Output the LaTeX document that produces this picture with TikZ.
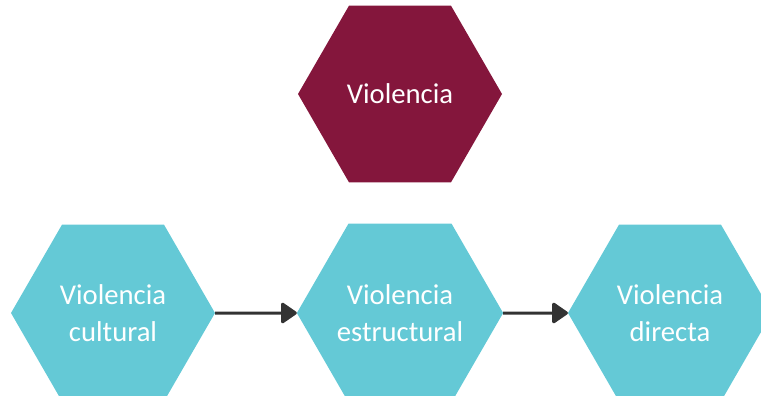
\documentclass[tikz,border=0pt]{standalone}
\usepackage{fontspec}
\setmainfont{Carlito}
\usetikzlibrary{shapes.geometric,arrows.meta}
\definecolor{bordeaux}{RGB}{132,22,60}
\definecolor{turquoise}{RGB}{100,201,214}
\definecolor{fleche}{RGB}{51,51,51}

\begin{document}
\begin{tikzpicture}[x=0.75pt,y=-0.75pt]
\tikzset{hexa/.style={regular polygon, regular polygon sides=6, minimum size=153pt, inner sep=0pt, outer sep=0pt, text=white, align=center, font=\fontsize{21.5}{27.75}\selectfont},
lien/.style={draw=fleche, line width=2.25pt, -{Triangle[length=12.75pt,width=17pt,round]}}}
\useasboundingbox (0,0) rectangle (761,396);
\clip (0,0) rectangle (761,396);
\node[hexa, fill=bordeaux] (V0) at (400,94) {Violencia};
\node[hexa, fill=turquoise] (V1) at (113,313) {Violencia\\cultural};
\node[hexa, fill=turquoise] (V2) at (400,313) {Violencia\\estructural};
\node[hexa, fill=turquoise] (V3) at (670,313) {Violencia\\directa};
\draw[lien] (V1.east) -- (V2.west);
\draw[lien] (V2.east) -- (V3.west);
\end{tikzpicture}
\end{document}
